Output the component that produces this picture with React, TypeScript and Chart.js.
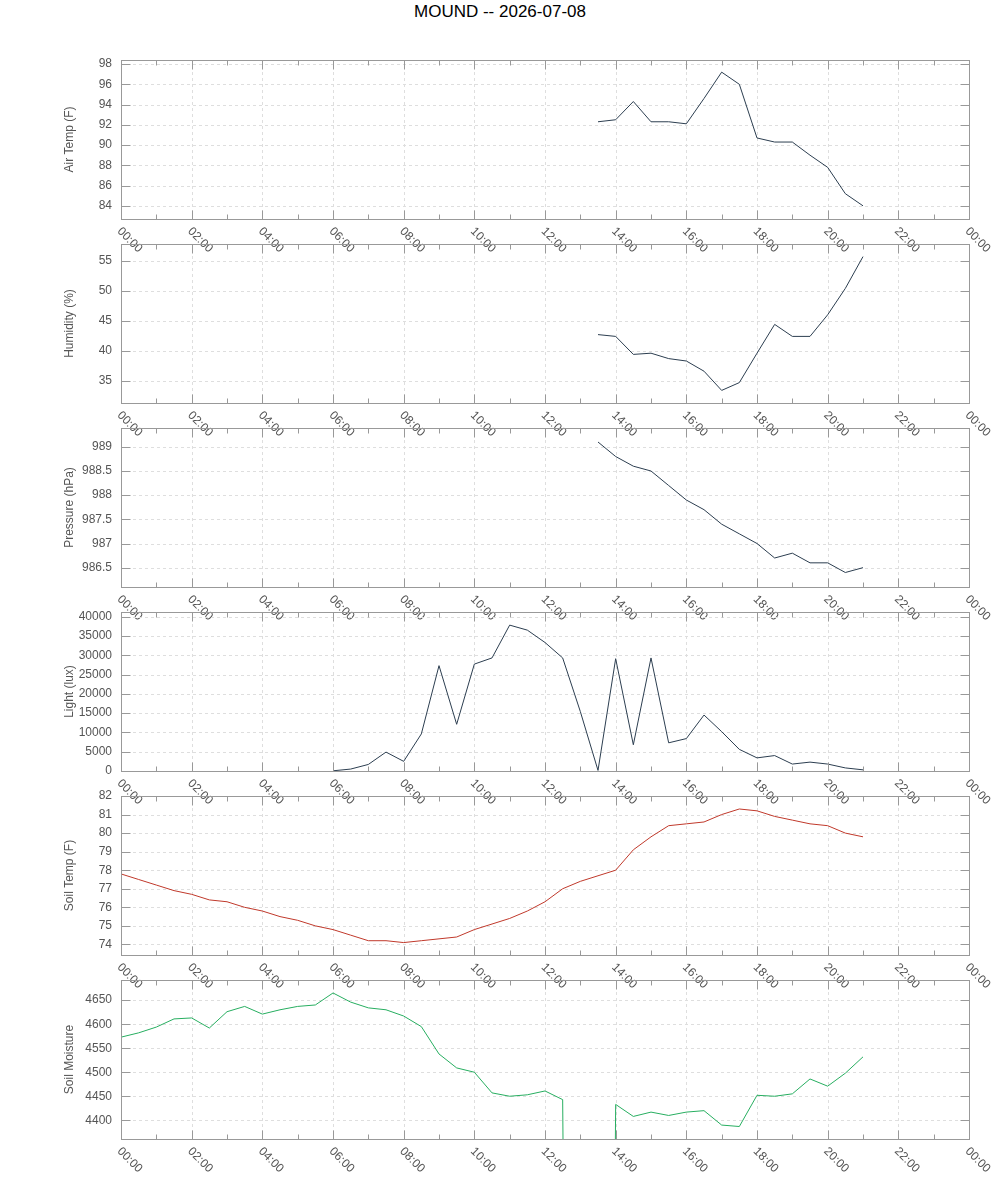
import React, { useEffect, useRef } from 'react';
import { Chart, registerables } from 'chart.js';

Chart.register(...registerables);

const chartTitle = 'MOUND -- 2026-07-08';

// half-hourly readings
const times = [
  '00:00', '00:30', '01:00', '01:30', '02:00', '02:30', '03:00', '03:30', '04:00', '04:30',
  '05:00', '05:30', '06:00', '06:30', '07:00', '07:30', '08:00', '08:30', '09:00', '09:30',
  '10:00', '10:30', '11:00', '11:30', '12:00', '12:30', '13:00', '13:30', '14:00', '14:30',
  '15:00', '15:30', '16:00', '16:30', '17:00', '17:30', '18:00', '18:30', '19:00', '19:30',
  '20:00', '20:30', '21:00',
];

const airTemp = [
  null, null, null, null, null, null, null, null, null, null, null, null, null, null,
  null, null, null, null, null, null, null, null, null, null, null, null, null,
  92.3, 92.5, 94.3, 92.3, 92.3, 92.1, 94.6, 97.2, 96.0, 90.7, 90.3, 90.3, 89.0, 87.8, 85.2, 84.0,
];

const humidity = [
  null, null, null, null, null, null, null, null, null, null, null, null, null, null,
  null, null, null, null, null, null, null, null, null, null, null, null, null,
  42.7, 42.4, 39.4, 39.6, 38.7, 38.3, 36.6, 33.4, 34.7, 39.6, 44.4, 42.4, 42.4, 46.0, 50.4, 55.7,
];

const pressure = [
  null, null, null, null, null, null, null, null, null, null, null, null, null, null,
  null, null, null, null, null, null, null, null, null, null, null, null, null,
  989.1, 988.8, 988.6, 988.5, 988.2, 987.9, 987.7, 987.4, 987.2, 987.0, 986.7, 986.8, 986.6, 986.6, 986.4, 986.5,
];

const light = [
  null, null, null, null, null, null, null, null, null, null, null, null,
  50, 500, 1700, 4900, 2500, 9600, 27300, 12100, 27700, 29300, 37800, 36500, 33300, 29300,
  15400, 150, 29100, 6800, 29300, 7300, 8400, 14500, 10200, 5600, 3400, 4000, 1800, 2300,
  1800, 800, 300,
];

const soilTemp = [
  77.8, 77.5, 77.2, 76.9, 76.7, 76.4, 76.3, 76.0, 75.8, 75.5, 75.3, 75.0, 74.8, 74.5,
  74.2, 74.2, 74.1, 74.2, 74.3, 74.4, 74.8, 75.1, 75.4, 75.8, 76.3, 77.0, 77.4, 77.7,
  78.0, 79.1, 79.8, 80.4, 80.5, 80.6, 81.0, 81.3, 81.2, 80.9, 80.7, 80.5, 80.4, 80.0, 79.8,
];

const soilMoisture = [
  4573, 4582, 4594, 4611, 4613, 4592, 4626, 4637, 4621, 4630, 4637, 4640, 4665, 4646,
  4634, 4630, 4617, 4595, 4538, 4509, 4500, 4457, 4450, 4453, 4461, 4443, 0, 0,
  4433, 4408, 4417, 4410, 4417, 4420, 4390, 4387, 4452, 4450, 4455, 4486, 4471, 4498, 4532,
];

const xTickLabels = [
  '00:00', '02:00', '04:00', '06:00', '08:00', '10:00', '12:00',
  '14:00', '16:00', '18:00', '20:00', '22:00', '00:00',
];

const airTempTicks = [84, 86, 88, 90, 92, 94, 96, 98];
const humidityTicks = [35, 40, 45, 50, 55];
const pressureTicks = [986.5, 987, 987.5, 988, 988.5, 989];
const lightTicks = [0, 5000, 10000, 15000, 20000, 25000, 30000, 35000, 40000];
const soilTempTicks = [74, 75, 76, 77, 78, 79, 80, 81, 82];
const soilMoistureTicks = [4400, 4450, 4500, 4550, 4600, 4650];

const FONT = "'Liberation Sans', Arial, sans-serif";
const TEXT = '#555555';
const FRAME = '#999999';
const GRID = '#dedede';

const PAD_TOP = 20;
const PAD_BOTTOM = 45;
const PLOT_H = 159;

const toHours = (t: string) => {
  const [h, m] = t.split(':').map(Number);
  return h + m / 60;
};

interface PanelProps {
  top: number;
  label: string;
  values: (number | null)[];
  color: string;
  min: number;
  max: number;
  ticks: number[];
}

const Panel: React.FC<PanelProps> = ({ top, label, values, color, min, max, ticks }) => {
  const canvasRef = useRef<HTMLCanvasElement>(null);

  useEffect(() => {
    if (!canvasRef.current) return;

    const frame = {
      id: 'frame',
      beforeDatasetsDraw(chart: any) {
        const { ctx, chartArea: a, scales } = chart;
        ctx.save();
        ctx.strokeStyle = GRID;
        ctx.lineWidth = 1;
        ctx.setLineDash([3, 3]);
        for (let h = 2; h < 24; h += 2) {
          const x = Math.round(scales.x.getPixelForValue(h)) + 0.5;
          ctx.beginPath();
          ctx.moveTo(x, a.top);
          ctx.lineTo(x, a.bottom);
          ctx.stroke();
        }
        ticks.forEach((v) => {
          const y = Math.round(scales.y.getPixelForValue(v)) + 0.5;
          if (y < a.top + 1 || y > a.bottom - 1) return;
          ctx.beginPath();
          ctx.moveTo(a.left, y);
          ctx.lineTo(a.right, y);
          ctx.stroke();
        });
        ctx.restore();
      },
      afterDatasetsDraw(chart: any) {
        const { ctx, chartArea: a, scales } = chart;
        const L = Math.round(a.left) + 0.5;
        const R = Math.round(a.right) + 0.5;
        const T = Math.round(a.top) + 0.5;
        const B = Math.round(a.bottom) + 0.5;
        ctx.save();
        ctx.strokeStyle = FRAME;
        ctx.lineWidth = 1;
        ctx.strokeRect(L, T, R - L, B - T);
        ctx.beginPath();
        for (let h = 1; h < 24; h++) {
          const x = Math.round(scales.x.getPixelForValue(h)) + 0.5;
          const len = h % 2 === 0 ? 9 : 5;
          ctx.moveTo(x, B);
          ctx.lineTo(x, B - len);
          ctx.moveTo(x, T);
          ctx.lineTo(x, T + len);
        }
        ticks.forEach((v) => {
          const y = Math.round(scales.y.getPixelForValue(v)) + 0.5;
          ctx.moveTo(L, y);
          ctx.lineTo(L + 9, y);
          ctx.moveTo(R, y);
          ctx.lineTo(R - 9, y);
        });
        ctx.stroke();

        // rotated time labels under the plot
        ctx.fillStyle = TEXT;
        ctx.font = `12px ${FONT}`;
        ctx.textAlign = 'left';
        ctx.textBaseline = 'middle';
        xTickLabels.forEach((t, i) => {
          const x = scales.x.getPixelForValue(i * 2);
          ctx.save();
          ctx.translate(x - 2, B + 10);
          ctx.rotate(Math.PI / 4);
          ctx.fillText(t, 0, 0);
          ctx.restore();
        });

        // axis title
        ctx.save();
        ctx.translate(70, (a.top + a.bottom) / 2);
        ctx.rotate(-Math.PI / 2);
        ctx.textAlign = 'center';
        ctx.fillText(label, 0, 0);
        ctx.restore();
        ctx.restore();
      },
    };

    const chart = new Chart(canvasRef.current, {
      type: 'line',
      data: {
        datasets: [
          {
            label,
            data: times.map((t, i) => ({ x: toHours(t), y: values[i] })),
            borderColor: color,
            borderWidth: 1,
            pointRadius: 0,
            tension: 0,
            spanGaps: false,
          },
        ],
      },
      options: {
        animation: false,
        responsive: false,
        maintainAspectRatio: false,
        layout: { padding: { left: 0, right: 31, top: PAD_TOP, bottom: PAD_BOTTOM } },
        plugins: { legend: { display: false }, tooltip: { enabled: false } },
        scales: {
          x: { type: 'linear', min: 0, max: 24, display: false },
          y: {
            type: 'linear',
            min,
            max,
            afterBuildTicks: (scale: any) => {
              scale.ticks = ticks.map((v) => ({ value: v }));
            },
            afterFit: (scale: any) => {
              scale.width = 121;
            },
            grid: { display: false, drawTicks: false },
            border: { display: false },
            ticks: {
              padding: 9,
              color: TEXT,
              font: { size: 12, family: FONT },
              callback: (v: any) => String(v),
            },
          },
        },
      },
      plugins: [frame],
    });

    return () => chart.destroy();
  }, [top, label, values, color, min, max, ticks]);

  return (
    <canvas
      ref={canvasRef}
      width={1000}
      height={PAD_TOP + PLOT_H + PAD_BOTTOM}
      style={{ position: 'absolute', left: 0, top: top - PAD_TOP, width: 1000, height: PAD_TOP + PLOT_H + PAD_BOTTOM }}
    />
  );
};

const App: React.FC = () => {
  return (
    <div style={{ position: 'relative', width: 1000, height: 1200, background: '#fff' }}>
      <style>{'body{margin:0}'}</style>
      <div
        style={{
          position: 'absolute',
          top: 2,
          left: 0,
          width: 1000,
          textAlign: 'center',
          font: `17px ${FONT}`,
          color: '#000',
        }}
      >
        {chartTitle}
      </div>
      <Panel top={60} label="Air Temp (F)" values={airTemp} color="#2c3e50" min={82.7} max={98.4} ticks={airTempTicks} />
      <Panel top={244} label="Humidity (%)" values={humidity} color="#2c3e50" min={31.3} max={57.8} ticks={humidityTicks} />
      <Panel top={428} label="Pressure (hPa)" values={pressure} color="#2c3e50" min={986.1} max={989.39} ticks={pressureTicks} />
      <Panel top={612} label="Light (lux)" values={light} color="#2c3e50" min={0} max={41200} ticks={lightTicks} />
      <Panel top={796} label="Soil Temp (F)" values={soilTemp} color="#c0392b" min={73.43} max={82} ticks={soilTempTicks} />
      <Panel top={980} label="Soil Moisture" values={soilMoisture} color="#27ae60" min={4361} max={4692} ticks={soilMoistureTicks} />
    </div>
  );
};

export default App;
